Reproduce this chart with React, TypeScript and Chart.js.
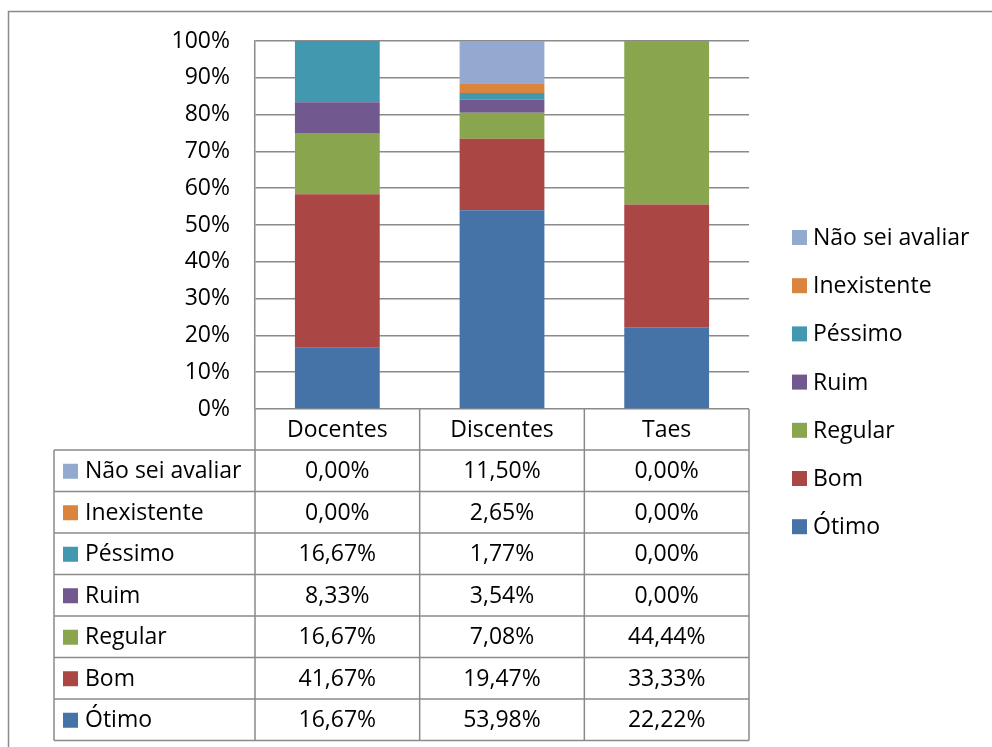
import React, { useEffect, useRef } from "react";
import { Chart, registerables } from "chart.js";

Chart.register(...registerables);

const categories = ["Docentes", "Discentes", "Taes"];
const otimo = [16.67, 53.98, 22.22];
const bom = [41.67, 19.47, 33.33];
const regular = [16.67, 7.08, 44.44];
const ruim = [8.33, 3.54, 0.0];
const pessimo = [16.67, 1.77, 0.0];
const inexistente = [0.0, 2.65, 0.0];
const naoSei = [0.0, 11.5, 0.0];

const seriesNames = ["Ótimo", "Bom", "Regular", "Ruim", "Péssimo", "Inexistente", "Não sei avaliar"];
const seriesValues = [otimo, bom, regular, ruim, pessimo, inexistente, naoSei];
const seriesColors = ["#4572A7", "#AA4643", "#89A54E", "#71588F", "#4198AF", "#DB843D", "#93A9CF"];

const yMin = 0;
const yMax = 100;
const yStep = 10;

const FONT = "'Open Sans', 'DejaVu Sans', sans-serif";
const FONT_SIZE = 23;
const LINE = "#8a8a8a";

const fmt = (v: number) => v.toFixed(2).replace(".", ",") + "%";

const tablePlugin = {
  id: "excelTable",
  afterDraw(chart: any) {
    const ctx = chart.ctx as CanvasRenderingContext2D;
    const x = chart.scales.x;
    const area = chart.chartArea;
    const catW = (area.right - area.left) / categories.length;
    const headerTop = area.bottom;
    const headerBottom = 450;
    const rowH = 41.5;
    const nRows = seriesNames.length;
    const tableBottom = headerBottom + rowH * nRows;
    const tableLeft = 54;

    ctx.save();
    // outer frame
    ctx.strokeStyle = LINE;
    ctx.lineWidth = 1.5;
    ctx.beginPath();
    ctx.moveTo(8.5, 747);
    ctx.lineTo(8.5, 11.5);
    ctx.lineTo(992, 11.5);
    ctx.stroke();

    // table lines
    ctx.beginPath();
    for (let i = 0; i <= categories.length; i++) {
      const xx = area.left + i * catW;
      ctx.moveTo(xx, headerTop);
      ctx.lineTo(xx, tableBottom);
    }
    ctx.moveTo(tableLeft, headerBottom);
    ctx.lineTo(tableLeft, tableBottom);
    for (let r = 0; r <= nRows; r++) {
      const yy = headerBottom + r * rowH;
      ctx.moveTo(tableLeft, yy);
      ctx.lineTo(area.right, yy);
    }
    ctx.stroke();

    ctx.font = `${FONT_SIZE}px ${FONT}`;
    ctx.fillStyle = "#000";
    ctx.textBaseline = "middle";
    ctx.textAlign = "center";
    categories.forEach((c, i) => {
      ctx.fillText(c, x.getPixelForValue(i), (headerTop + headerBottom) / 2 + 1);
    });

    // rows: top = last series
    for (let r = 0; r < nRows; r++) {
      const s = nRows - 1 - r;
      const cy = headerBottom + r * rowH + rowH / 2 + 1;
      ctx.fillStyle = seriesColors[s];
      ctx.fillRect(63, cy - 8, 15, 15);
      ctx.fillStyle = "#000";
      ctx.textAlign = "left";
      ctx.fillText(seriesNames[s], 85, cy);
      ctx.textAlign = "center";
      seriesValues[s].forEach((v, i) => {
        ctx.fillText(fmt(v), x.getPixelForValue(i), cy);
      });
    }

    // legend on right
    const legTop = 237.5;
    const legStep = 48.2;
    for (let r = 0; r < nRows; r++) {
      const s = nRows - 1 - r;
      const cy = legTop + r * legStep;
      ctx.fillStyle = seriesColors[s];
      ctx.fillRect(792, cy - 7.5, 15, 15);
      ctx.fillStyle = "#000";
      ctx.textAlign = "left";
      ctx.fillText(seriesNames[s], 813, cy + 1);
    }
    ctx.restore();
  },
};

export default function App() {
  const ref = useRef<HTMLCanvasElement | null>(null);

  useEffect(() => {
    if (!ref.current) return;
    const chart = new Chart(ref.current, {
      type: "bar",
      data: {
        labels: categories,
        datasets: seriesNames.map((name, i) => ({
          label: name,
          data: seriesValues[i],
          backgroundColor: seriesColors[i],
          borderWidth: 0,
          categoryPercentage: 1,
          barPercentage: 0.515,
        })),
      },
      options: {
        responsive: false,
        animation: false,
        layout: { padding: { left: 0, top: 41, right: 243, bottom: 338 } },
        plugins: {
          legend: { display: false },
          tooltip: { enabled: false },
        },
        scales: {
          x: {
            stacked: true,
            display: false,
          },
          y: {
            stacked: true,
            min: yMin,
            max: yMax,
            afterFit: (scale: any) => {
              scale.width = 255;
            },
            ticks: {
              stepSize: yStep,
              padding: 25,
              color: "#000",
              font: { family: FONT, size: FONT_SIZE },
              callback: (v: any) => `${v}%`,
            },
            grid: {
              color: LINE,
              lineWidth: 1.5,
              drawTicks: false,
            },
            border: { display: true, color: LINE, width: 1.5 },
          },
        },
      },
      plugins: [tablePlugin],
    });
    return () => chart.destroy();
  }, []);

  return (
    <div style={{ position: "fixed", left: 0, top: 0, width: 992, height: 747, background: "#fff" }}>
      <canvas ref={ref} width={992} height={747} style={{ display: "block" }} />
    </div>
  );
}
